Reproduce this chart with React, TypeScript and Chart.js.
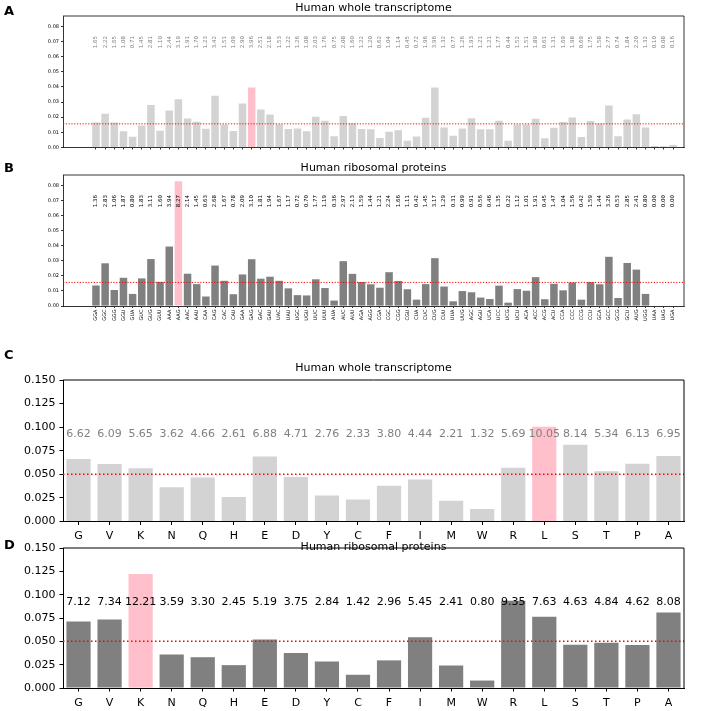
import React, { useEffect, useRef } from 'react';
import { Chart, registerables } from 'chart.js';
Chart.register(...registerables);

const FONT = 'DejaVu Sans';
const W = 708;
const H = 711;

const codons = ['GGA','GGC','GGG','GGU','GUA','GUC','GUG','GUU','AAA','AAG','AAC','AAU','CAA','CAG','CAC','CAU','GAA','GAG','GAC','GAU','UAC','UAU','UGC','UGU','UUC','UUU','AUA','AUC','AUU','AGA','AGG','CGA','CGC','CGG','CGU','CUA','CUC','CUG','CUU','UUA','UUG','AGC','AGU','UCA','UCC','UCG','UCU','ACA','ACC','ACG','ACU','CCA','CCC','CCG','CCU','GCA','GCC','GCG','GCU','AUG','UGG','UAA','UAG','UGA'];
const codonTranscriptomePct = [1.65,2.22,1.65,1.08,0.71,1.45,2.81,1.10,2.44,3.19,1.91,1.70,1.23,3.42,1.51,1.09,2.90,3.96,2.51,2.18,1.53,1.22,1.26,1.08,2.03,1.76,0.75,2.08,1.60,1.22,1.20,0.62,1.04,1.14,0.45,0.72,1.96,3.96,1.32,0.77,1.26,1.93,1.21,1.21,1.77,0.44,1.52,1.51,1.89,0.61,1.31,1.69,1.98,0.69,1.75,1.58,2.77,0.74,1.84,2.20,1.32,0.10,0.08,0.16];
const codonRibosomalPct = [1.36,2.83,1.06,1.87,0.80,1.83,3.11,1.60,3.94,8.27,2.14,1.45,0.63,2.68,1.67,0.78,2.09,3.10,1.81,1.94,1.67,1.17,0.72,0.70,1.77,1.19,0.36,2.97,2.13,1.59,1.44,1.21,2.24,1.66,1.11,0.42,1.45,3.17,1.29,0.31,0.99,0.91,0.56,0.46,1.35,0.22,1.12,1.01,1.91,0.45,1.47,1.04,1.56,0.42,1.59,1.44,3.26,0.53,2.85,2.41,0.80,0.00,0.00,0.00];
const aminoAcids = ['G','V','K','N','Q','H','E','D','Y','C','F','I','M','W','R','L','S','T','P','A'];
const aaTranscriptomePct = [6.62,6.09,5.65,3.62,4.66,2.61,6.88,4.71,2.76,2.33,3.80,4.44,2.21,1.32,5.69,10.05,8.14,5.34,6.13,6.95];
const aaRibosomalPct = [7.12,7.34,12.21,3.59,3.30,2.45,5.19,3.75,2.84,1.42,2.96,5.45,2.41,0.80,9.35,7.63,4.63,4.84,4.62,8.08];

const codonYTicks = [0, 0.01, 0.02, 0.03, 0.04, 0.05, 0.06, 0.07, 0.08];
const aaYTicks = [0, 0.025, 0.05, 0.075, 0.1, 0.125, 0.15];

const PINK = '#ffc0cb';

type Panel = {
  kind: 'codon' | 'aa';
  letter: string;
  title: string;
  cats: string[];
  pct: number[];
  highlight: string;
  barColor: string;
  labelColor: string;
  uniform: number;
  yMax: number;
  yTicks: number[];
  top: number;
  bottom: number;
  titleY: number;
  letterY: number;
  showX: boolean;
  labelAt: number;
};

const panels: Panel[] = [
  { kind: 'codon', letter: 'A', title: 'Human whole transcriptome', cats: codons, pct: codonTranscriptomePct, highlight: 'GAG', barColor: '#d3d3d3', labelColor: '#808080', uniform: 1 / 64, yMax: 0.0868, yTicks: codonYTicks, top: 16, bottom: 147.5, titleY: 8, letterY: 12, showX: false, labelAt: 0.0695 },
  { kind: 'codon', letter: 'B', title: 'Human ribosomal proteins', cats: codons, pct: codonRibosomalPct, highlight: 'AAG', barColor: '#808080', labelColor: '#000000', uniform: 1 / 64, yMax: 0.0868, yTicks: codonYTicks, top: 175, bottom: 306, titleY: 168, letterY: 169, showX: true, labelAt: 0.0695 },
  { kind: 'aa', letter: 'C', title: 'Human whole transcriptome', cats: aminoAcids, pct: aaTranscriptomePct, highlight: 'L', barColor: '#d3d3d3', labelColor: '#808080', uniform: 0.05, yMax: 0.15, yTicks: aaYTicks, top: 380, bottom: 521.5, titleY: 368, letterY: 356, showX: true, labelAt: 0.0925 },
  { kind: 'aa', letter: 'D', title: 'Human ribosomal proteins', cats: aminoAcids, pct: aaRibosomalPct, highlight: 'K', barColor: '#808080', labelColor: '#000000', uniform: 0.05, yMax: 0.15, yTicks: aaYTicks, top: 548, bottom: 688, titleY: 547, letterY: 546, showX: true, labelAt: 0.0915 },
];

function buildConfig(p: Panel): any {
  const codon = p.kind === 'codon';
  const heights = p.pct.map((v) => v / 100);
  const colors = p.cats.map((c) => (c === p.highlight ? PINK : p.barColor));
  const small = codon ? 5 : 11;
  const tickLen = codon ? 2 : 3.5;
  const lw = codon ? 0.8 : 1;

  const overlay = {
    id: 'overlay' + p.letter,
    afterDatasetsDraw(chart: any) {
      const { ctx, chartArea: a } = chart;
      const y = chart.scales.y;
      const meta = chart.getDatasetMeta(0);
      ctx.save();
      // uniform line
      ctx.strokeStyle = 'red';
      ctx.lineWidth = codon ? 1 : 1.5;
      ctx.setLineDash(codon ? [1.2, 1.6] : [1.5, 2.5]);
      const yy = y.getPixelForValue(p.uniform);
      ctx.beginPath();
      ctx.moveTo(a.left, yy);
      ctx.lineTo(a.right, yy);
      ctx.stroke();
      ctx.setLineDash([]);
      // frame top and right
      ctx.strokeStyle = '#000';
      ctx.lineWidth = lw;
      ctx.beginPath();
      ctx.moveTo(a.left, a.top);
      ctx.lineTo(a.right, a.top);
      ctx.lineTo(a.right, a.bottom);
      ctx.stroke();
      // value labels
      ctx.fillStyle = p.labelColor;
      const ly = y.getPixelForValue(p.labelAt);
      p.pct.forEach((v, i) => {
        const bx = meta.data[i].x;
        const txt = v.toFixed(2);
        if (codon) {
          ctx.save();
          ctx.translate(bx, ly);
          ctx.rotate(-Math.PI / 2);
          ctx.font = `5.5px "${FONT}"`;
          ctx.textAlign = 'center';
          ctx.textBaseline = 'middle';
          ctx.fillText(txt, 0, 0);
          ctx.restore();
        } else {
          ctx.font = `11px "${FONT}"`;
          ctx.textAlign = 'center';
          ctx.textBaseline = 'middle';
          ctx.fillText(txt, bx, ly);
        }
      });
      // title
      ctx.fillStyle = '#000';
      ctx.font = `11px "${FONT}"`;
      ctx.textAlign = 'center';
      ctx.textBaseline = 'middle';
      ctx.fillText(p.title, (a.left + a.right) / 2, p.titleY);
      // letter
      ctx.font = `bold 13px "${FONT}"`;
      ctx.textAlign = 'left';
      ctx.fillText(p.letter, 4, p.letterY);
      ctx.restore();
    },
  };

  const xScale = codon
    ? {
        type: 'linear',
        min: -3.6,
        max: 64.2,
        offset: false,
        afterBuildTicks: (s: any) => {
          s.ticks = p.cats.map((_, i) => ({ value: i }));
        },
        afterFit: (s: any) => {
          s.height = H - p.bottom;
        },
        ticks: {
          autoSkip: false,
          minRotation: 90,
          maxRotation: 90,
          padding: 1.5,
          color: '#000',
          font: { family: FONT, size: 5 },
          callback: (v: any) => (p.showX ? p.cats[v] : ''),
        },
        grid: { display: true, drawOnChartArea: false, drawTicks: true, tickLength: tickLen, color: '#000', lineWidth: lw, offset: false },
        border: { display: true, color: '#000', width: lw },
      }
    : {
        type: 'category',
        offset: true,
        afterFit: (s: any) => {
          s.height = H - p.bottom;
        },
        ticks: { autoSkip: false, maxRotation: 0, padding: 5, color: '#000', font: { family: FONT, size: small } },
        grid: { display: true, drawOnChartArea: false, drawTicks: true, tickLength: tickLen, color: '#000', lineWidth: lw, offset: false },
        border: { display: true, color: '#000', width: lw },
      };

  return {
    type: 'bar',
    data: {
      labels: codon ? undefined : p.cats,
      datasets: [
        {
          data: codon ? heights.map((h, i) => ({ x: i, y: h })) : heights,
          backgroundColor: colors,
          borderWidth: 0,
          barPercentage: codon ? 0.82 : 0.78,
          categoryPercentage: 1,
        },
      ],
    },
    options: {
      responsive: false,
      maintainAspectRatio: false,
      animation: false,
      events: [],
      layout: { padding: { left: 0, right: 24, top: p.top, bottom: 0 } },
      plugins: { legend: { display: false }, tooltip: { enabled: false }, title: { display: false } },
      scales: {
        x: xScale,
        y: {
          type: 'linear',
          min: 0,
          max: p.yMax,
          afterFit: (s: any) => {
            s.width = 63;
          },
          afterBuildTicks: (s: any) => {
            s.ticks = p.yTicks.map((v) => ({ value: v }));
          },
          ticks: {
            padding: codon ? 2 : 4,
            color: '#000',
            font: { family: FONT, size: codon ? 5 : 11 },
            callback: (v: any) => Number(v).toFixed(codon ? 2 : 3),
          },
          grid: { display: true, drawOnChartArea: false, drawTicks: true, tickLength: tickLen, color: '#000', lineWidth: lw },
          border: { display: true, color: '#000', width: lw },
        },
      },
    },
    plugins: [overlay],
  };
}

function PanelCanvas({ p }: { p: Panel }) {
  const ref = useRef<HTMLCanvasElement | null>(null);
  useEffect(() => {
    if (!ref.current) return;
    const chart = new Chart(ref.current, buildConfig(p));
    return () => chart.destroy();
  }, [p]);
  return <canvas ref={ref} width={W} height={H} style={{ position: 'absolute', left: 0, top: 0, width: W, height: H }} />;
}

export default function App() {
  return (
    <div style={{ position: 'fixed', left: 0, top: 0, width: W, height: H, background: '#fff', overflow: 'hidden' }}>
      {panels.map((p) => (
        <PanelCanvas key={p.letter} p={p} />
      ))}
    </div>
  );
}
